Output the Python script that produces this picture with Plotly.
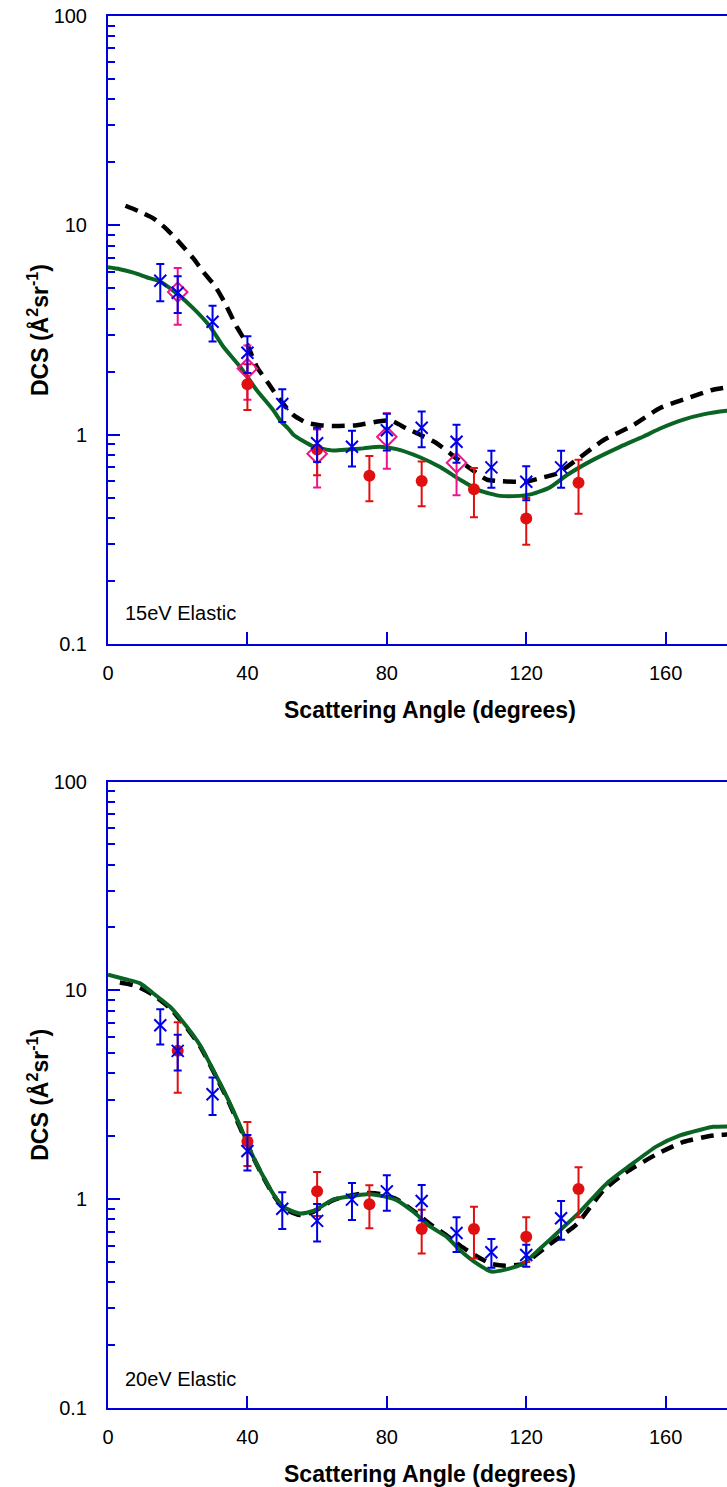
import plotly.graph_objects as go

# ---------------- 15 eV panel ----------------
p1_dash_x = [5, 8.7, 13, 16.8, 20.7, 24.5, 27.3, 30.7, 33.6, 36.9, 39.8, 42.7, 46.0, 49.4, 53.2, 57.0, 60.8, 65, 71.4, 78, 81,
             85.7, 89.5, 94.3, 100, 103.9, 108.7, 112, 116.3, 120, 124.9, 128.7, 135, 142.1, 150.7, 158.4, 166.1, 173.7, 180]
p1_dash_y = [12.4, 11.7, 10.8, 9.6, 8.2, 6.95, 6.0, 5.13, 4.24, 3.28, 2.73, 2.11, 1.76, 1.46, 1.24, 1.14, 1.11, 1.10, 1.11, 1.16, 1.17,
             1.07, 1.0, 0.91, 0.77, 0.69, 0.61, 0.60, 0.596, 0.596, 0.625, 0.65, 0.77, 0.94, 1.11, 1.34, 1.49, 1.64, 1.70]
p1_green_x = [0, 3.4, 7.3, 11.1, 14.9, 19.7, 24.5, 29.3, 33.1, 37.9, 42.7, 47.4, 49.4, 51.7, 53.2, 58.9, 64.6, 69, 73.3, 78, 82.8,
              89.5, 95.3, 101, 106.7, 112.5, 118.2, 121.6, 126.8, 131.6, 139.3, 146.9, 153.6, 158.4, 165.1, 170.8, 177.5, 180]
p1_green_y = [6.3, 6.17, 5.94, 5.65, 5.39, 4.73, 4.01, 3.28, 2.63, 2.11, 1.63, 1.31, 1.17, 1.07, 1.0, 0.88, 0.84, 0.85, 0.86, 0.875, 0.853,
              0.78, 0.70, 0.61, 0.54, 0.51, 0.51, 0.52, 0.56, 0.64, 0.76, 0.875, 0.98, 1.07, 1.18, 1.25, 1.30, 1.31]
p1_blue_x = [15, 20, 30, 40, 50, 60, 70, 80, 90, 100, 110, 120, 130]
p1_blue_y = [5.44, 4.76, 3.46, 2.46, 1.40, 0.91, 0.875, 1.05, 1.08, 0.925, 0.698, 0.596, 0.698]
p1_blue_e = [1.1, 0.95, 0.67, 0.49, 0.25, 0.17, 0.17, 0.21, 0.21, 0.19, 0.14, 0.11, 0.14]
p1_red_x = [40, 60, 75, 90, 105, 120, 135]
p1_red_y = [1.74, 0.85, 0.636, 0.60, 0.548, 0.398, 0.589]
p1_red_e = [0.43, 0.21, 0.155, 0.145, 0.145, 0.10, 0.17]
p1_pink_x = [20, 40, 60, 80, 100]
p1_pink_y = [4.8, 2.07, 0.81, 0.977, 0.734]
p1_pink_e = [1.45, 0.6, 0.25, 0.29, 0.22]

# ---------------- 20 eV panel ----------------
p2_dash_x = [3.4, 8, 13, 17.8, 22.6, 26.4, 30.2, 34.1, 37.9, 41.7, 44.6, 47.4, 50.3, 55.1, 58.9, 64.6, 69.4, 74.2, 78, 82.8,
             87.6, 92.4, 97.2, 101, 106, 110, 114, 119, 126.8, 134.5, 142.1, 148.8, 157.4, 165.1, 173.7, 180]
p2_dash_y = [10.9, 10.5, 9.5, 8.2, 6.6, 5.4, 4.1, 3.05, 2.2, 1.58, 1.27, 1.05, 0.91, 0.84, 0.87, 0.99, 1.04, 1.07, 1.06, 1.0,
             0.88, 0.76, 0.67, 0.60, 0.53, 0.49, 0.48, 0.49, 0.61, 0.76, 1.10, 1.35, 1.64, 1.88, 2.02, 2.05]
p2_green_x = [0, 5, 9.2, 13, 17.8, 22.6, 26.4, 30.2, 34.1, 37.9, 41.7, 44.6, 47.4, 50.3, 55.1, 58.9, 64.6, 69.4, 74.2, 78, 82.8,
              87.6, 92.4, 97.2, 101, 106, 110, 114, 119, 124, 129.7, 135.4, 143.1, 149.8, 157.4, 164.1, 170, 173.7, 180]
p2_green_y = [11.9, 11.3, 10.8, 9.66, 8.34, 6.69, 5.46, 4.15, 3.09, 2.24, 1.59, 1.28, 1.06, 0.918, 0.853, 0.878, 0.995, 1.03, 1.055, 1.04, 0.99,
              0.87, 0.74, 0.66, 0.57, 0.49, 0.45, 0.46, 0.49, 0.58, 0.71, 0.87, 1.19, 1.45, 1.79, 2.02, 2.15, 2.22, 2.23]
p2_blue_x = [15, 20, 30, 40, 50, 60, 70, 80, 90, 100, 110, 120, 130]
p2_blue_y = [6.81, 5.13, 3.18, 1.70, 0.90, 0.787, 0.995, 1.09, 0.98, 0.689, 0.557, 0.54, 0.81]
p2_blue_e = [1.3, 1.0, 0.65, 0.33, 0.18, 0.16, 0.2, 0.21, 0.19, 0.13, 0.087, 0.065, 0.17]
p2_red_x = [20, 40, 60, 75, 90, 105, 120, 135]
p2_red_y = [5.13, 1.89, 1.09, 0.946, 0.72, 0.72, 0.66, 1.12]
p2_red_e = [1.9, 0.45, 0.26, 0.22, 0.17, 0.2, 0.16, 0.3]

panel_labels = ["15eV Elastic", "20eV Elastic"]
ytick_vals = [0.1, 1, 10, 100]
ytick_text = ["0.1", "1", "10", "100"]
ytick_minor = [0.2, 0.3, 0.4, 0.5, 0.6, 0.7, 0.8, 0.9, 2, 3, 4, 5, 6, 7, 8, 9, 20, 30, 40, 50, 60, 70, 80, 90]
xtick_vals = [0, 40, 80, 120, 160]

BLUE = "#0000e6"
AXBLUE = "#0000dc"
RED = "#e01010"
PINK = "#f0148c"
GREEN = "#0a6423"
FONT = "Liberation Sans, Arial, sans-serif"

fig = go.Figure()


def line(x, y, color, dash, xa, ya, width=4):
    fig.add_trace(go.Scatter(x=x, y=y, mode="lines", xaxis=xa, yaxis=ya,
                             line=dict(color=color, width=width, dash=dash, shape="spline", smoothing=0.6),
                             showlegend=False, hoverinfo="skip"))


def pts(x, y, e, color, symbol, size, xa, ya, lw=2):
    fig.add_trace(go.Scatter(x=x, y=y, mode="markers", xaxis=xa, yaxis=ya,
                             marker=dict(symbol=symbol, size=size, color=color, line=dict(color=color, width=lw)),
                             error_y=dict(type="data", array=e, visible=True, color=color, thickness=2, width=4),
                             showlegend=False))


# panel 1
line(p1_green_x, p1_green_y, GREEN, "solid", "x", "y")
line(p1_dash_x, p1_dash_y, "black", "13px,8px", "x", "y", width=4.5)
pts(p1_pink_x, p1_pink_y, p1_pink_e, PINK, "diamond-open", 15, "x", "y")
pts(p1_red_x, p1_red_y, p1_red_e, RED, "circle", 12, "x", "y", lw=0)
pts(p1_blue_x, p1_blue_y, p1_blue_e, BLUE, "x-thin-open", 12, "x", "y")

# panel 2
line(p2_dash_x, p2_dash_y, "black", "13px,8px", "x2", "y2", width=4.5)
line(p2_green_x, p2_green_y, GREEN, "solid", "x2", "y2")
pts(p2_red_x, p2_red_y, p2_red_e, RED, "circle", 12, "x2", "y2", lw=0)
pts(p2_blue_x, p2_blue_y, p2_blue_e, BLUE, "x-thin-open", 12, "x2", "y2")

W, H = 727, 1487
L, R, T, B = 108, 0, 16, 79
plot_h = H - T - B
bot1 = 1 - (644 - T) / plot_h
top2 = 1 - (781.5 - T) / plot_h


def xax(anchor):
    return dict(anchor=anchor, domain=[0, 1], range=[0, 177.6], tickvals=xtick_vals,
                ticks="inside", ticklen=12, tickwidth=2, tickcolor=AXBLUE,
                showline=True, linecolor=AXBLUE, linewidth=2, mirror=True,
                showgrid=False, zeroline=False, ticklabelstandoff=10,
                tickfont=dict(family=FONT, size=20, color="black"))


def yax(anchor, dom):
    return dict(anchor=anchor, domain=dom, type="log", range=[-1, 2],
                tickvals=ytick_vals, ticktext=ytick_text,
                ticks="inside", ticklen=12, tickwidth=2, tickcolor=AXBLUE,
                minor=dict(tickvals=ytick_minor, ticks="inside", ticklen=7, tickwidth=2, tickcolor=AXBLUE, showgrid=False),
                showline=True, linecolor=AXBLUE, linewidth=2, mirror=False,
                showgrid=False, zeroline=False, ticklabelstandoff=15,
                tickfont=dict(family=FONT, size=20, color="black"))


annotations = []
for i, (yref, xref, py_lab, py_xt, py_yt) in enumerate([
        ("y", "x", -0.852, 710, (16 + 644) / 2),
        ("y2", "x2", -0.863, 1474, (781.5 + 1408) / 2)]):
    annotations.append(dict(text=panel_labels[i], x=4.3, y=py_lab, xref=xref, yref=yref,
                            xanchor="left", yanchor="middle", showarrow=False,
                            font=dict(family=FONT, size=20, color="black")))
    annotations.append(dict(text="<b>Scattering Angle (degrees)</b>", x=(430 - L) / (W - L - R),
                            y=(H - B - py_xt) / plot_h, xref="paper", yref="paper",
                            xanchor="center", yanchor="middle", showarrow=False,
                            font=dict(family=FONT, size=23, color="black")))
    annotations.append(dict(text="<b>DCS (Å<sup>2</sup>sr<sup>-1</sup>)</b>", x=(38 - L) / (W - L - R),
                            y=(H - B - py_yt) / plot_h, xref="paper", yref="paper",
                            xanchor="center", yanchor="middle", textangle=-90, showarrow=False,
                            font=dict(family=FONT, size=23, color="black")))

fig.update_layout(
    width=W, height=H, margin=dict(l=L, r=R, t=T, b=B, autoexpand=False),
    paper_bgcolor="white", plot_bgcolor="white",
    xaxis=xax("y"), yaxis=yax("x", [bot1, 1]),
    xaxis2=xax("y2"), yaxis2=yax("x2", [0, top2]),
    annotations=annotations, showlegend=False,
)

fig.write_html("out.html")
